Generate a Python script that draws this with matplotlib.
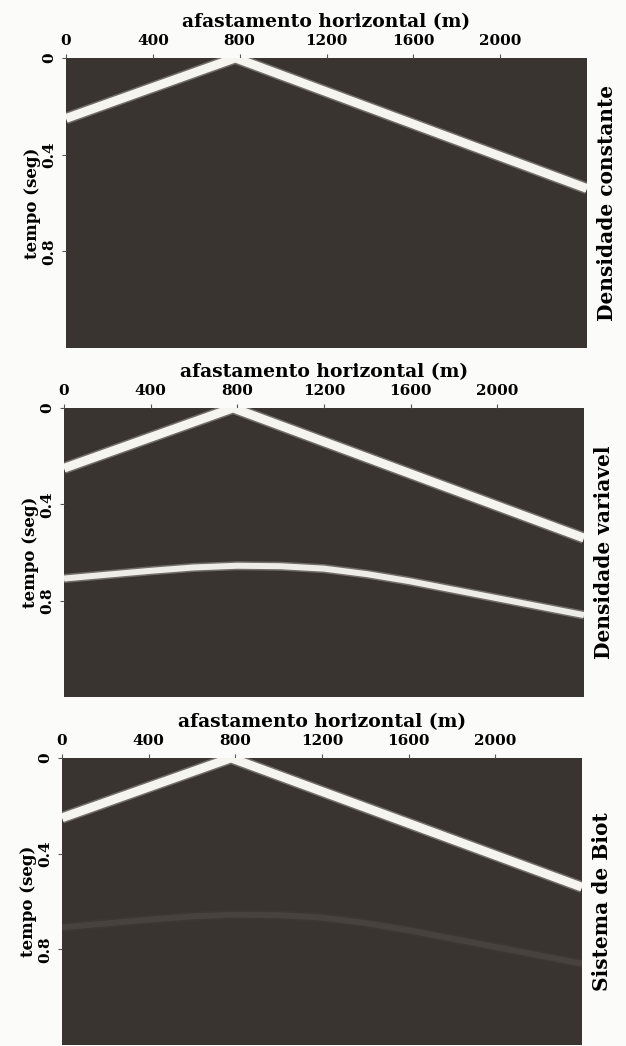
import matplotlib
matplotlib.use("Agg")
import matplotlib.pyplot as plt

# ---- data ----
panel_names = ["Densidade constante", "Densidade variavel", "Sistema de Biot"]
x_ticks = [0, 400, 800, 1200, 1600, 2000]
y_ticks = [0, 0.4, 0.8]
y_tick_labels = ["0", "0.4", "0.8"]

# direct wave (offset in m, time in s)
direct_x = [0, 780, 2400]
direct_t = [0.25, 0.0, 0.54]

# reflection (panel 2 strong, panel 3 faint)
refl_x = [0, 200, 400, 600, 800, 1000, 1200, 1400, 1600, 1800, 2000, 2200, 2400]
refl_t = [0.708, 0.692, 0.676, 0.662, 0.655, 0.657, 0.667, 0.690, 0.720, 0.755, 0.790, 0.825, 0.860]
refl_strength = [0.0, 1.0, 0.06]

BG = "#3a3430"
EV = "#f6f4ef"
fig = plt.figure(figsize=(6.26, 10.46), dpi=100, facecolor="#fbfbf9")
W, H = 626, 1046
frames = [(66, 58, 587, 348), (64, 408, 584, 697), (62, 758, 582, 1045)]
font = dict(family="DejaVu Serif", fontweight="bold")

for i, (l, t, r, b) in enumerate(frames):
    ax = fig.add_axes([l / W, 1 - b / H, (r - l) / W, (b - t) / H])
    ax.set_facecolor(BG)
    ax.set_xlim(0, 2400)
    ax.set_ylim(1.2, 0)
    # direct wave with soft edges
    ax.plot(direct_x, direct_t, color=EV, lw=8.5, alpha=0.3, solid_capstyle="butt", solid_joinstyle="miter")
    ax.plot(direct_x, direct_t, color=EV, lw=6.3, alpha=1.0, solid_capstyle="butt", solid_joinstyle="miter")
    a = refl_strength[i]
    if a > 0:
        ax.plot(refl_x, refl_t, color=EV, lw=6.5, alpha=0.3 * a, solid_capstyle="butt")
        ax.plot(refl_x, refl_t, color=EV, lw=4.3, alpha=0.95 * a, solid_capstyle="butt")
    ax.xaxis.tick_top()
    ax.xaxis.set_label_position("top")
    ax.set_xticks(x_ticks)
    ax.set_xticklabels([str(v) for v in x_ticks], fontsize=11, **font)
    ax.set_yticks(y_ticks)
    ax.set_yticklabels(y_tick_labels, fontsize=11, rotation=90, va="center", **font)
    ax.tick_params(axis="both", direction="out", length=3, width=0.8, pad=4, color="#555555")
    ax.tick_params(axis="x", bottom=False)
    ax.set_xlabel("afastamento horizontal (m)", fontsize=13.5, labelpad=5, **font)
    ax.set_ylabel("tempo (seg)", fontsize=12, labelpad=1, **font)
    for s in ax.spines.values():
        s.set_visible(False)
    ax.text(1.02, 0.5, panel_names[i], transform=ax.transAxes, rotation=90,
            ha="left", va="center", fontsize=14.5, **font)

fig.savefig("out.png", dpi=100, facecolor=fig.get_facecolor())
